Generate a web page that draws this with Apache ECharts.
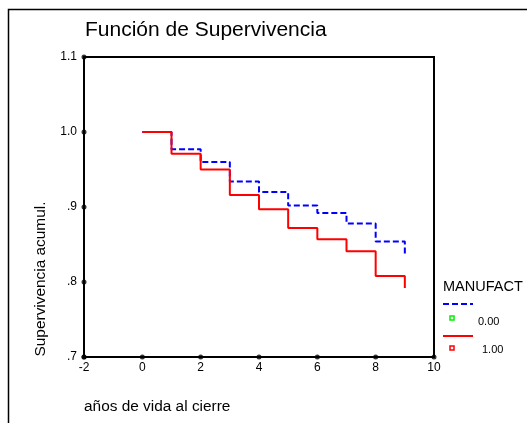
<!DOCTYPE html>
<html><head><meta charset="utf-8">
<script src="https://cdn.jsdelivr.net/npm/echarts@6/dist/echarts.min.js"></script>
<style>html,body{margin:0;padding:0;background:#fff}#c{width:527px;height:423px}</style>
</head><body><div id="c"></div>
<script>
var times = [0,1,2,3,4,5,6,7,8,9];
var surv0 = [1.0,0.977,0.960,0.934,0.920,0.902,0.892,0.878,0.854,0.837];
var surv1 = [1.0,0.971,0.950,0.916,0.897,0.872,0.857,0.841,0.808,0.792];
var xTicks = [-2,0,2,4,6,8,10];
var yTicks = [0.7,0.8,0.9,1.0,1.1];
var yLabels = {'0.7':'.7','0.8':'.8','0.9':'.9','1':'1.0','1.1':'1.1'};
var groupNames = ['0.00','1.00'];
var FONT = 'Liberation Sans, Arial, sans-serif';

function pairs(xs, ys){ return xs.map(function(x,i){return [x, ys[i]];}); }
var tickDots = xTicks.map(function(x){return [x,0.7];}).concat(yTicks.map(function(y){return [-2,y];}));

var chart = echarts.init(document.getElementById('c'), null, {renderer:'canvas'});
chart.setOption({
  animation:false,
  backgroundColor:'#fff',
  textStyle:{fontFamily:FONT},
  grid:{left:84, top:57, right:93, bottom:66, show:true, borderColor:'#000', borderWidth:2, backgroundColor:'transparent'},
  xAxis:{type:'value', min:-2, max:10, interval:2,
    axisLine:{show:true, onZero:false, lineStyle:{color:'#000', width:2}},
    axisTick:{show:false}, splitLine:{show:false},
    axisLabel:{color:'#000', fontSize:12, margin:5, fontFamily:FONT}},
  yAxis:{type:'value', min:0.7, max:1.1, interval:0.1,
    axisLine:{show:true, onZero:false, lineStyle:{color:'#000', width:2}},
    axisTick:{show:false}, splitLine:{show:false},
    axisLabel:{color:'#000', fontSize:12, margin:7, fontFamily:FONT,
      formatter:function(v){ var k=String(Math.round(v*10)/10); return yLabels[k]||k; }}},
  series:[
    {name:groupNames[0], type:'line', step:'end', data:pairs(times,surv0), symbol:'none', z:2,
      lineStyle:{color:'#0000ff', width:2, type:[6,3]}},
    {name:groupNames[1], type:'line', step:'end', data:pairs(times,surv1), symbol:'none', z:3,
      lineStyle:{color:'#ff0000', width:2}},
    {type:'scatter', data:tickDots, symbol:'circle', symbolSize:5, clip:false, z:5,
      itemStyle:{color:'#000'}, silent:true}
  ],
  graphic:[
    {type:'rect', left:6, top:7, shape:{x:0,y:0,width:540,height:440}, style:{fill:'none', stroke:'#000', lineWidth:1.5}, silent:true},
    {type:'text', x:85, y:20, scaleX:1.05, style:{text:'Función de Supervivencia', font:'20px '+FONT, fill:'#000'}},
    {type:'text', x:84, y:400, scaleX:1.1, style:{text:'años de vida al cierre', font:'14px '+FONT, fill:'#000'}},
    {type:'text', x:41, y:279, rotation:Math.PI/2, scaleX:1.1, style:{text:'Supervivencia acumul.', font:'14px '+FONT, fill:'#000', align:'center', verticalAlign:'middle'}},
    {type:'text', x:443, y:279, style:{text:'MANUFACT', font:'14.5px '+FONT, fill:'#000'}},
    {type:'line', shape:{x1:443,y1:304,x2:473,y2:304}, style:{stroke:'#0000ff', lineWidth:2, lineDash:[6,3]}},
    {type:'rect', shape:{x:450,y:316,width:4,height:4}, style:{fill:'#fff', stroke:'#00ee00', lineWidth:1.5}},
    {type:'text', x:478, y:316, style:{text:groupNames[0], font:'11px '+FONT, fill:'#000'}},
    {type:'line', shape:{x1:443,y1:336,x2:473,y2:336}, style:{stroke:'#ff0000', lineWidth:2}},
    {type:'rect', shape:{x:450,y:346,width:4,height:4}, style:{fill:'#fff', stroke:'#ff0000', lineWidth:1.5}},
    {type:'text', x:482, y:344, style:{text:groupNames[1], font:'11px '+FONT, fill:'#000'}}
  ]
});
</script></body></html>
